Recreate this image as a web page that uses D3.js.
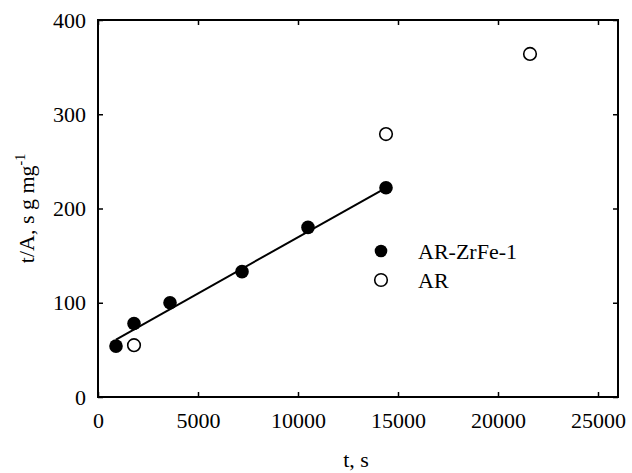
<!DOCTYPE html>
<html>
<head>
<meta charset="utf-8">
<script src="https://cdn.jsdelivr.net/npm/d3@7"></script>
<style>
  body { margin: 0; background: #fff; }
  text { font-family: "Liberation Serif", "Times New Roman", serif; fill: #000; }
</style>
</head>
<body>
<div id="chart"></div>
<script>
// AR-ZrFe-1 (filled)
const zrfeT = [900, 1800, 3600, 7200, 10500, 14400];
const zrfeY = [54, 78, 100, 133, 180, 222];
// AR (open)
const arT = [1800, 14400, 21600];
const arY = [55, 279, 364];
// linear fit for AR-ZrFe-1
const fitT = [900, 14400];
const fitY = [61, 222];

const xTicks = [0, 5000, 10000, 15000, 20000, 25000];
const yTicks = [0, 100, 200, 300, 400];
const seriesNames = ["AR-ZrFe-1", "AR"];

const W = 632, H = 473;
const margin = {top: 20, right: 14, bottom: 76, left: 98};
const width = W - margin.left - margin.right;
const height = H - margin.top - margin.bottom;

const svg = d3.select("#chart").append("svg")
    .attr("width", W)
    .attr("height", H)
  .append("g")
    .attr("transform", "translate(" + margin.left + "," + margin.top + ")");

const x = d3.scaleLinear().domain([0, 26000]).range([0, width]);
const y = d3.scaleLinear().domain([0, 400]).range([height, 0]);

function styleAxis(g) {
  g.select(".domain").remove();
  g.selectAll(".tick line").attr("stroke", "#000").attr("stroke-width", 1.5);
  g.selectAll(".tick text").style("font-size", "22px");
}

// bottom & left with labels, ticks pointing in
svg.append("g")
    .attr("transform", "translate(0," + height + ")")
    .call(d3.axisBottom(x).tickValues(xTicks).tickSizeInner(-5).tickSizeOuter(0).tickPadding(15).tickFormat(d3.format("d")))
    .call(styleAxis);

svg.append("g")
    .call(d3.axisLeft(y).tickValues(yTicks).tickSizeInner(-5).tickSizeOuter(0).tickPadding(12))
    .call(styleAxis);

// top & right mirror ticks
svg.append("g")
    .call(d3.axisTop(x).tickValues(xTicks).tickSizeInner(-5).tickSizeOuter(0).tickFormat(""))
    .call(styleAxis);

svg.append("g")
    .attr("transform", "translate(" + width + ",0)")
    .call(d3.axisRight(y).tickValues(yTicks).tickSizeInner(-5).tickSizeOuter(0).tickFormat(""))
    .call(styleAxis);

// frame
svg.append("rect")
    .attr("width", width)
    .attr("height", height)
    .attr("fill", "none")
    .attr("stroke", "#000")
    .attr("stroke-width", 2);

// fit line
const fit = fitT.map((t, i) => [t, fitY[i]]);
svg.append("path")
    .datum(fit)
    .attr("fill", "none")
    .attr("stroke", "#000")
    .attr("stroke-width", 2)
    .attr("d", d3.line().x(d => x(d[0])).y(d => y(d[1])));

// points
svg.selectAll(".zrfe")
    .data(zrfeT.map((t, i) => [t, zrfeY[i]]))
    .enter().append("circle")
    .attr("cx", d => x(d[0]))
    .attr("cy", d => y(d[1]))
    .attr("r", 6.8)
    .attr("fill", "#000");

svg.selectAll(".ar")
    .data(arT.map((t, i) => [t, arY[i]]))
    .enter().append("circle")
    .attr("cx", d => x(d[0]))
    .attr("cy", d => y(d[1]))
    .attr("r", 6.3)
    .attr("fill", "#fff")
    .attr("stroke", "#000")
    .attr("stroke-width", 1.6);

// legend
const legend = svg.append("g").attr("transform", "translate(283,231)");
seriesNames.forEach((name, i) => {
  const row = legend.append("g").attr("transform", "translate(0," + (i * 29) + ")");
  row.append("circle")
      .attr("r", 6.3)
      .attr("fill", i === 0 ? "#000" : "#fff")
      .attr("stroke", "#000")
      .attr("stroke-width", i === 0 ? 0 : 1.6);
  row.append("text")
      .attr("x", 37)
      .attr("y", 7.5)
      .style("font-size", "22px")
      .text(name);
});

// axis labels
svg.append("text")
    .attr("text-anchor", "middle")
    .attr("x", x(12900))
    .attr("y", height + 70)
    .style("font-size", "22px")
    .text("t, s");

const yl = svg.append("text")
    .attr("text-anchor", "middle")
    .attr("transform", "translate(" + (-64) + "," + (y(200)) + ")rotate(-90)")
    .style("font-size", "22px");
yl.append("tspan").text("t/A, s g mg");
yl.append("tspan").attr("dy", -9).style("font-size", "14px").text("-1");
</script>
</body>
</html>
